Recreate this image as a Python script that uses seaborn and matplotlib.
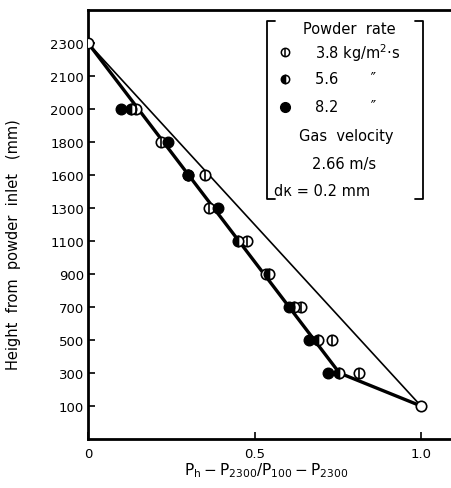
import matplotlib
matplotlib.use("Agg")
import matplotlib.pyplot as plt
import seaborn as sns
import pandas as pd
import numpy as np

# ---- data ----
height_ticks = [100, 300, 500, 700, 900, 1100, 1300, 1600, 1800, 2000, 2100, 2300]
x_ticks = [0, 0.5, 1.0]
x_tick_labels = ["0", "0.5", "1.0"]

# powder rate 3.8 kg/m2s (circle with bar)
h_38 = [2000, 1800, 1600, 1300, 1100, 900, 700, 500, 300]
x_38 = [0.145, 0.22, 0.35, 0.363, 0.477, 0.535, 0.64, 0.733, 0.815]
# powder rate 5.6 (half filled)
h_56 = [2000, 1600, 1100, 900, 700, 500, 300]
x_56 = [0.13, 0.30, 0.45, 0.545, 0.62, 0.69, 0.755]
# powder rate 8.2 (filled)
h_82 = [2000, 1800, 1600, 1300, 700, 500, 300]
x_82 = [0.10, 0.24, 0.30, 0.39, 0.605, 0.664, 0.72]
# end points (open)
h_end = [2300, 100]
x_end = [0.0, 1.0]
# measured trend line (thick)
h_trend = [2300, 300, 100]
x_trend = [0.0, 0.755, 1.0]
# linear line (thin)
h_lin = [2300, 100]
x_lin = [0.0, 1.0]

def pos(hs):
    return [height_ticks.index(h) + 1 for h in hs]

sns.set_style("ticks")
plt.rcParams['font.family'] = ['DejaVu Sans']
plt.rcParams['text.color'] = 'black'
plt.rcParams['xtick.color'] = 'black'
plt.rcParams['ytick.color'] = 'black'
plt.rcParams['axes.labelcolor'] = 'black'

W, H = 451, 489
fig = plt.figure(figsize=(W / 100, H / 100), dpi=100)
ax = fig.add_axes([88 / W, 1 - 440 / H, (451 - 88) / W, (440 - 11) / H])

df_lin = pd.DataFrame({"x": x_lin, "y": pos(h_lin)})
df_tr = pd.DataFrame({"x": x_trend, "y": pos(h_trend)})
sns.lineplot(data=df_lin, x="x", y="y", sort=False, ax=ax, color="black", lw=1.2, zorder=2)
sns.lineplot(data=df_tr, x="x", y="y", sort=False, ax=ax, color="black", lw=2.4, zorder=2)

ms = 7.5
# 3.8 : open circle with vertical bar
ax.plot(x_38, pos(h_38), ls="none", marker="o", ms=ms, mfc="white", mec="black", mew=1.2, zorder=4)
ax.plot(x_38, pos(h_38), ls="none", marker="|", ms=ms, mec="black", mew=1.2, zorder=5)
# 5.6 : half filled
ax.plot(x_56, pos(h_56), ls="none", marker="o", ms=ms, fillstyle="left", mfc="black",
        mfcalt="white", mec="black", mew=1.2, zorder=4)
# 8.2 : filled
df_82 = pd.DataFrame({"x": x_82, "y": pos(h_82)})
sns.scatterplot(data=df_82, x="x", y="y", ax=ax, color="black", s=58, edgecolor="black",
                linewidth=1.0, zorder=4)
# end points
ax.plot(x_end, pos(h_end), ls="none", marker="o", ms=ms, mfc="white", mec="black", mew=1.2, zorder=4)

ax.set_xlim(0, (451 - 88) / 333)
ax.set_ylim(0, 13)
ax.set_yticks(range(1, len(height_ticks) + 1))
ax.set_yticklabels([str(h) for h in height_ticks])
ax.set_xticks(x_ticks)
ax.set_xticklabels(x_tick_labels)
ax.tick_params(direction="in", length=5, width=1.2, labelsize=9.5, colors="black")
ax.tick_params(axis="y", pad=3)
ax.tick_params(axis="x", pad=6)
for s in ["left", "bottom", "top"]:
    ax.spines[s].set_linewidth(2)
    ax.spines[s].set_color("black")
ax.spines["right"].set_visible(False)
ax.set_xlabel("")
ax.set_ylabel("")

fig.text(14 / W, 1 - 245 / H, "Height  from  powder  inlet   (mm)", rotation=90,
         ha="center", va="center", fontsize=10.5, color="black")
fig.text(266 / W, 1 - 471 / H,
         r"$\mathregular{P_h - P_{2300}/ P_{100} - P_{2300}}$",
         ha="center", va="center", fontsize=11, color="black")

# legend box (bracketed)
def fx(x):
    return x / W
def fy(y):
    return 1 - y / H

lw = 1.3
for xs, ys in [([275, 267, 267, 275], [22, 22, 200, 200]),
               ([415, 423, 423, 415], [22, 22, 200, 200])]:
    fig.add_artist(plt.Line2D([fx(v) for v in xs], [fy(v) for v in ys], color="black", lw=lw))

fs = 10.5
fig.text(fx(349), fy(30), "Powder  rate", ha="center", va="center", fontsize=fs)
rows = [(53, "3.8 kg/m$^{2}$·s"), (80, "5.6       \u2033"), (108, "8.2       \u2033")]
# legend markers
fig.add_artist(plt.Line2D([fx(285)], [fy(53)], marker="o", ms=6, mfc="white", mec="black", mew=1.1, ls="none"))
fig.add_artist(plt.Line2D([fx(285)], [fy(53)], marker="|", ms=6, mec="black", mew=1.1, ls="none"))
fig.add_artist(plt.Line2D([fx(285)], [fy(80)], marker="o", ms=6, fillstyle="left", mfc="black",
                          mfcalt="white", mec="black", mew=1.1, ls="none"))
fig.add_artist(plt.Line2D([fx(285)], [fy(108)], marker="o", ms=7, mfc="black", mec="black", ls="none"))
for y, t in rows:
    fig.text(fx(315), fy(y), t, ha="left", va="center", fontsize=fs)
fig.text(fx(346), fy(137), "Gas  velocity", ha="center", va="center", fontsize=fs)
fig.text(fx(344), fy(164), "2.66 m/s", ha="center", va="center", fontsize=fs)
fig.text(fx(274), fy(191), "d\u043a = 0.2 mm", ha="left", va="center", fontsize=fs)

fig.savefig("out.png", dpi=100, facecolor="white")
